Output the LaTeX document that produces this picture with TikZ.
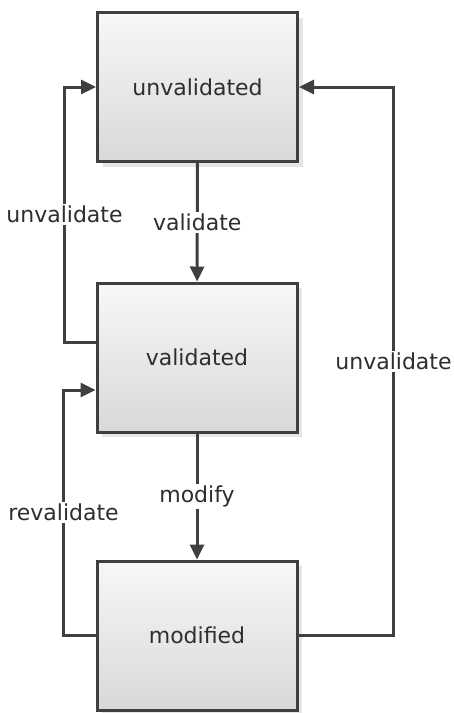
\documentclass[tikz,border=0pt]{standalone}
\usepackage{fontspec}
\setmainfont{DejaVu Sans}
\usepackage{tikz}
\usetikzlibrary{arrows.meta, shadows}

\definecolor{edgegray}{HTML}{3F3F3F}
\definecolor{textgray}{HTML}{2E2E2E}

\tikzset{
    state/.style={draw=edgegray, line width=3pt, rectangle,
        minimum width=200pt, minimum height=149pt,
        top color=gray!6, bottom color=gray!30,
        drop shadow={shadow xshift=5pt, shadow yshift=-5pt, fill=gray!40, opacity=0.5},
        text=textgray, font=\fontsize{22}{26}\selectfont},
    flow/.style={draw=edgegray, line width=3pt, -{Triangle[length=15pt,width=14pt]}},
    lbl/.style={fill=white, text=textgray, inner sep=2pt,
        font=\fontsize{22}{26}\selectfont}
}

\begin{document}
\begin{tikzpicture}[x=1pt, y=-1pt]
    \useasboundingbox (0,0) rectangle (453,713);

    % States
    \node[state] (unval) at (197.5,87)    {unvalidated};
    \node[state] (val)   at (197,357.5)   {validated};
    \node[state] (mod)   at (197,635.5)   {modified};

    % Forward transitions
    \draw[flow] (unval) -- (val) node[lbl, midway] {validate};
    \draw[flow] (val) -- (mod) node[lbl, midway] {modify};

    % Back to unvalidated (left)
    \draw[flow] ([yshift=15pt]val.west) -- ++(-31,0) coordinate (lu)
        -- (lu |- unval.west) node[lbl, midway] {unvalidate} -- (unval.west);

    % Back to validated
    \draw[flow] (mod.west) -- ++(-32,0) coordinate (lr)
        -- (lr |- 0,390) node[lbl, midway] {revalidate} -- ([yshift=-32.5pt]val.west);

    % Back to unvalidated (right)
    \draw[flow] (mod.east) -- ++(95,0) coordinate (ru)
        -- (ru |- unval.east) node[lbl, midway] {unvalidate} -- (unval.east);
\end{tikzpicture}
\end{document}
